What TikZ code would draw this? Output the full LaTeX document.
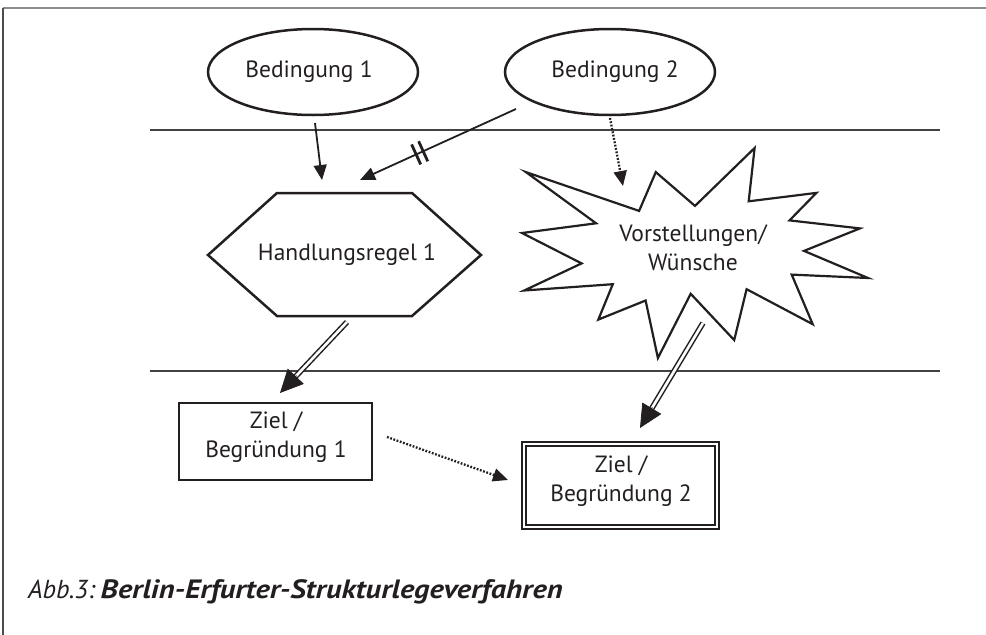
\documentclass[tikz,border=0pt]{standalone}
\usepackage{fontspec}
\setmainfont{PT Sans}
\newfontfamily\capfont[FakeStretch=1.15]{PT Sans}
\usetikzlibrary{shapes.geometric,arrows.meta,calc}
\definecolor{ink}{HTML}{231F20}
\tikzset{
  outl/.style={draw=ink, line width=2.5pt},
  bedg/.style={ellipse, outl, minimum width=210pt, minimum height=86pt, inner sep=0pt},
  lbl/.style={font=\fontsize{23.5}{29}\selectfont, text=ink, align=center, inner sep=0pt},
  zbox/.style={rectangle, outl, line width=2.6pt, minimum width=193pt, minimum height=77pt, inner sep=0pt},
  zdbox/.style={rectangle, draw=ink, line width=1.6pt, double, double distance=2.4pt, minimum width=193pt, minimum height=83pt, inner sep=0pt},
  arr/.style={draw=ink, line width=1.8pt, -{Triangle[length=15pt,width=13pt]}},
  dotarr/.style={draw=ink, line width=2.3pt, dash pattern=on 1.8pt off 1.6pt, -{Triangle[length=15pt,width=13pt]}},
  dbl/.style={draw=ink, line width=1.5pt, double, double distance=2.6pt},
  bighead/.style={draw=ink, fill=ink, line width=0.8pt, -{Triangle[length=23pt,width=22pt]}},
  rule/.style={draw=ink!85, line width=2.2pt},
}
\begin{document}
\begin{tikzpicture}[x=1pt,y=-1pt]
\useasboundingbox (0,0) rectangle (986,635);
% frame
\draw[gray!90, line width=2.6pt] (3,8) -- (986,8);
\draw[gray!60!black, line width=1.4pt] (3,8) -- (3,635);
% rules
\draw[rule] (150,130) -- (940,130);
\draw[rule] (150,371) -- (940,371);
% ellipses
\node[bedg] (b1) at (313,72) {};
\node[lbl] at (309,72) {Bedingung 1};
\node[bedg] (b2) at (610,72) {};
\node[lbl] at (615,72) {Bedingung 2};
% hexagon
\draw[outl, line join=miter] (208,255) -- (277,193) -- (412,193) -- (481,255) -- (412,316) -- (277,316) -- cycle;
\node[lbl] (h) at (347,255) {Handlungsregel 1};
% star (explosion)
\draw[draw=ink, line width=2.2pt, line join=miter, miter limit=20]
 (695.0,205.9) -- (754.6,148.0) -- (748.7,201.3) -- (816.4,192.9) -- (789.5,220.4)
 -- (859.9,228.4) -- (804.0,250.9) -- (868.0,278.0) -- (791.7,274.6) -- (812.7,324.2)
 -- (746.6,289.2) -- (734.2,340.1) -- (690.7,293.8) -- (657.9,358.0) -- (645.6,300.5)
 -- (598.3,319.6) -- (612.8,284.2) -- (524.2,290.5) -- (581.6,263.4) -- (522.0,233.0)
 -- (596.1,223.3) -- (525.9,172.1) -- (639.1,210.9) -- (655.8,172.1) -- cycle;
\node[lbl] (v) at (693,248) {Vorstellungen/\\Wünsche};
% boxes
\node[zbox] (z1) at (275.5,441.5) {};
\node[lbl] at (276,437) {Ziel /\\Begründung 1};
\node[zdbox] (z2) at (620.5,485.5) {};
\node[lbl] at (621,481) {Ziel /\\Begründung 2};
% connector end points
\coordinate (a1s) at (315,123);
\coordinate (a1t) at (322,180);
\coordinate (a2s) at (516,109);
\coordinate (a2t) at (360,180);
\coordinate (a3s) at (610,118);
\coordinate (a3t) at (623,186);
\coordinate (a4s) at (347,322);
\coordinate (a4t) at (280,393);
\coordinate (a5s) at (703,323);
\coordinate (a5t) at (640,428);
\coordinate (a6s) at (387,437);
\coordinate (a6t) at (508,480);
% arrows
\draw[arr] (a1s) -- (a1t);
\draw[arr] (a2s) -- (a2t);
\coordinate (m1) at ($(a2s)!0.595!(a2t)$);
\coordinate (m2) at ($(a2s)!0.64!(a2t)$);
\draw[draw=ink, line width=2.8pt] ($(m1)!11pt!90:(a2t)$) -- ($(m1)!11pt!-90:(a2t)$);
\draw[draw=ink, line width=2.8pt] ($(m2)!11pt!90:(a2t)$) -- ($(m2)!11pt!-90:(a2t)$);
\draw[dotarr] (a3s) -- (a3t);
\draw[dotarr] (a6s) -- (a6t);
\draw[dbl, shorten >=16pt] (a4s) -- (a4t);
\draw[bighead] ($(a4t)!24pt!(a4s)$) -- (a4t);
\draw[dbl, shorten >=16pt] (a5s) -- (a5t);
\draw[bighead] ($(a5t)!24pt!(a5s)$) -- (a5t);
% caption
\node[anchor=base west, inner sep=0pt, text=ink, font=\fontsize{26}{30}\selectfont] at (28,598)
 {\textit{Abb.3:}\hspace{5pt}{\capfont\fontsize{26.5}{30}\selectfont\textbf{\textit{Berlin-Erfurter-Strukturlegeverfahren}}}};
\end{tikzpicture}
\end{document}
